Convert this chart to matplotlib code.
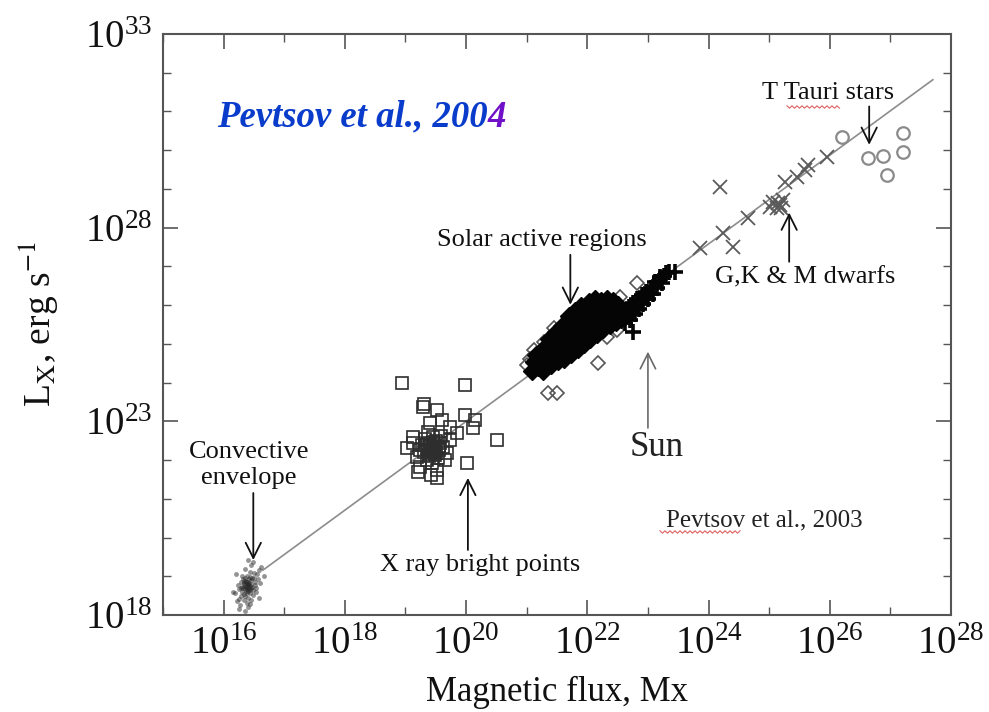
import numpy as np
import matplotlib
matplotlib.use('Agg')
import matplotlib.pyplot as plt
from matplotlib.ticker import FixedLocator, NullFormatter, LogFormatterMathtext
from matplotlib.lines import Line2D

plt.rcParams['font.family'] = ['Liberation Serif', 'DejaVu Serif']
plt.rcParams['mathtext.fontset'] = 'stix'

# all values are log10(flux [Mx]) and log10(Lx [erg/s])
conv_flux = [16.38, 16.42, 16.35, 16.45, 16.30, 16.50, 16.40, 16.33, 16.47, 16.37,
             16.28, 16.55, 16.41, 16.36, 16.44, 16.25, 16.52, 16.39, 16.31, 16.48,
             16.43, 16.34, 16.58, 16.22, 16.46, 16.40, 16.29, 16.53, 16.37, 16.44,
             16.32, 16.49, 16.41, 16.26, 16.56, 16.38, 16.35, 16.45, 16.19, 16.62,
             16.42, 16.33, 16.50, 16.39, 16.27, 16.47, 16.36, 16.43, 16.31, 16.54,
             16.40, 16.24, 16.60, 16.46, 16.34, 16.38, 16.51, 16.29, 16.42, 16.37,
             16.15, 16.66, 16.21, 16.58, 16.48, 16.26, 16.36, 16.44, 16.40, 16.33,
             16.39, 16.41, 16.35, 16.43, 16.37, 16.45, 16.32, 16.40]
conv_lum = [18.75, 18.82, 18.68, 18.90, 18.60, 18.95, 18.70, 18.80, 18.72, 18.88,
            18.50, 19.05, 18.62, 18.95, 18.58, 18.42, 18.85, 19.02, 18.72, 18.65,
            18.98, 18.55, 19.15, 18.35, 18.80, 18.45, 18.85, 18.70, 18.62, 19.10,
            18.92, 18.52, 18.78, 18.66, 18.92, 18.30, 19.18, 18.40, 18.58, 19.25,
            18.68, 18.38, 19.08, 18.86, 18.25, 18.96, 18.48, 18.74, 19.00, 18.60,
            18.20, 18.78, 18.82, 19.30, 18.83, 18.57, 18.77, 18.70, 18.92, 18.73,
            18.60, 19.00, 19.05, 18.45, 19.38, 18.15, 18.10, 18.28, 19.42, 18.88,
            18.66, 18.79, 18.76, 18.64, 18.84, 18.71, 18.69, 18.81]

xbp_flux = [18.94, 19.98, 19.29, 19.52, 19.98, 20.15, 20.12, 20.51, 20.02,
            19.41, 19.60, 19.74, 19.13, 19.03, 19.24, 19.41, 19.57, 19.74, 19.24,
            19.52, 19.36, 19.19, 19.69, 19.46, 19.85, 19.40, 19.45, 19.35, 19.50,
            19.30, 19.55, 19.40, 19.62, 19.48, 19.33, 19.58, 19.28, 19.44, 19.66,
            19.12, 19.38, 19.53, 19.47, 19.30, 19.52, 19.20, 19.42, 19.43, 19.37,
            19.49, 19.56, 19.32, 19.45, 19.39, 19.51, 19.41, 19.47, 19.36]
xbp_lum = [24.00, 23.94, 23.37, 23.30, 23.17, 23.04, 22.83, 22.52, 21.93,
           22.96, 23.04, 22.86, 22.60, 22.31, 22.26, 22.34, 22.44, 22.52, 21.82,
           21.75, 22.00, 22.08, 22.18, 22.60, 22.70, 22.40, 22.30, 22.45, 22.50,
           22.20, 22.25, 22.15, 22.35, 22.12, 22.55, 22.62, 22.38, 21.92, 22.00,
           22.45, 22.72, 22.05, 22.42, 23.45, 21.55, 21.70, 21.62, 22.22, 22.28,
           22.36, 22.32, 22.40, 22.48, 22.10, 22.18, 22.26, 22.20, 22.33]

ar_flux = [21.08, 21.12, 21.15, 21.18, 21.22, 21.25, 21.27, 21.30, 21.32, 21.34,
           21.36, 21.40, 21.42, 21.44, 21.46, 21.48, 21.52, 21.54, 21.55, 21.57,
           21.58, 21.62, 21.63, 21.65, 21.66, 21.68, 21.70, 21.73, 21.74, 21.76,
           21.77, 21.79, 21.80, 21.84, 21.85, 21.86, 21.88, 21.89, 21.90, 21.94,
           21.95, 21.97, 21.98, 22.00, 22.02, 22.05, 22.06, 22.08, 22.09, 22.11,
           22.13, 22.16, 22.17, 22.19, 22.20, 22.22, 22.26, 22.27, 22.29, 22.31,
           22.33, 22.37, 22.38, 22.40, 22.42, 22.47, 22.48, 22.50, 22.55, 22.57,
           22.62]
ar_lum = [24.30, 24.52, 24.72, 24.40, 24.62, 24.85, 24.30, 24.50, 24.72, 24.95,
          25.12, 24.45, 24.65, 24.88, 25.08, 25.30, 24.55, 24.78, 25.00, 25.22,
          25.45, 24.62, 24.85, 25.08, 25.30, 25.55, 25.72, 24.75, 24.98, 25.20,
          25.42, 25.65, 25.85, 24.88, 25.10, 25.32, 25.55, 25.78, 25.98, 25.00,
          25.22, 25.45, 25.68, 25.90, 26.08, 25.12, 25.35, 25.58, 25.80, 26.00,
          26.15, 25.25, 25.48, 25.70, 25.92, 26.12, 25.38, 25.60, 25.82, 26.02,
          26.16, 25.48, 25.70, 25.92, 26.10, 25.56, 25.78, 26.00, 25.65, 25.88,
          25.72]
# scattered active regions lying outside the dense cloud
ar_out_flux = [22.18, 21.35, 21.50, 21.00, 21.05, 21.12, 22.54, 22.82, 22.49, 22.33,
               21.28, 21.45]
ar_out_lum = [24.51, 23.74, 23.74, 24.45, 24.62, 24.85, 26.22, 26.58, 25.36, 25.18,
              25.05, 25.40]

sun_flux = [22.62, 22.65, 22.68, 22.70, 22.72, 22.75, 22.76, 22.78, 22.80, 22.82,
            22.85, 22.87, 22.90, 22.92, 22.95, 22.97, 23.00, 23.02, 23.05, 23.08,
            23.10, 23.12, 23.15, 23.18, 23.20, 23.23, 23.26, 23.30, 23.35, 23.45]
sun_lum = [25.55, 25.75, 25.95, 25.62, 25.85, 26.05, 25.31, 25.78, 25.98, 26.15,
           25.90, 26.10, 26.25, 26.02, 26.20, 26.35, 26.15, 26.32, 26.45, 26.30,
           26.50, 26.60, 26.45, 26.62, 26.72, 26.58, 26.75, 26.82, 26.85, 26.86]

dwarf_flux = [23.86, 24.24, 24.41, 24.19, 24.65, 25.07, 25.18, 25.13, 25.23, 25.02,
              25.26, 25.46, 25.59, 25.64, 25.96, 25.15, 25.20]
dwarf_lum = [27.48, 27.87, 27.51, 29.06, 28.26, 28.67, 28.59, 28.52, 28.72, 28.54,
             29.19, 29.32, 29.50, 29.63, 29.83, 28.64, 28.50]

ttauri_flux = [26.20, 26.63, 26.88, 26.95, 27.21, 27.21]
ttauri_lum = [30.33, 29.81, 29.84, 29.37, 30.45, 29.96]

fit_flux = [16.65, 27.70]
fit_lum = [19.16, 31.82]

x_major = [16, 18, 20, 22, 24, 26, 28]
y_major = [18, 23, 28, 33]


def p(v):
    return 10.0 ** np.asarray(v, dtype=float)


fig = plt.figure(figsize=(9.89, 7.12), dpi=100)
ax = fig.add_axes([0.1648, 0.1362, 0.7968, 0.816])
ax.set_xscale('log')
ax.set_yscale('log')

ax.plot(p(fit_flux), p(fit_lum), color='#8c8c8c', lw=1.2, zorder=1)

ax.plot(p(conv_flux), p(conv_lum), '.', ms=7, color='#2a2a2a', alpha=0.5, mew=0, zorder=2)
ax.plot(p(xbp_flux), p(xbp_lum), 's', ms=9, mfc='none', mec='#2e2e2e', mew=1.2, zorder=2)
ax.plot(p(ar_out_flux), p(ar_out_lum), 'D', ms=7, mfc='none', mec='#555555', mew=1.2, zorder=2)
ax.plot(p(ar_flux), p(ar_lum), 'D', ms=9, mfc='#050505', mec='#050505', mew=1.0, zorder=2)
ax.plot(p(sun_flux), p(sun_lum), '+', ms=11, color='#050505', mew=2.6, zorder=3)
ax.plot(p(dwarf_flux), p(dwarf_lum), 'x', ms=10, color='#5a5a5a', mew=1.3, zorder=2)
ax.plot(p(ttauri_flux), p(ttauri_lum), 'o', ms=9, mfc='none', mec='#8a8a8a', mew=1.6, zorder=2)

ax.set_xlim(1e15, 1e28)
ax.set_ylim(1e18, 1e33)
ax.xaxis.set_major_locator(FixedLocator(p(x_major)))
ax.yaxis.set_major_locator(FixedLocator(p(y_major)))
ax.xaxis.set_minor_locator(FixedLocator(p(np.arange(15, 29))))
ax.yaxis.set_minor_locator(FixedLocator(p(np.arange(18, 34))))
ax.xaxis.set_major_formatter(LogFormatterMathtext())
ax.yaxis.set_major_formatter(LogFormatterMathtext())
ax.xaxis.set_minor_formatter(NullFormatter())
ax.yaxis.set_minor_formatter(NullFormatter())
ax.tick_params(which='both', direction='in', top=True, right=True, color='#555555')
ax.tick_params(which='major', length=11, width=1.2, labelsize=28, pad=8, labelcolor='#111111')
ax.tick_params(which='minor', length=6, width=1.0)
for s in ax.spines.values():
    s.set_color('#555555')
    s.set_linewidth(1.5)

ax.set_xlabel('Magnetic flux, Mx', fontsize=25, color='#111111')
ax.xaxis.label.set_va('center')
ax.xaxis.set_label_coords(0.5, -0.133)
ax.set_ylabel(r'L$_{\rm X}$, erg s$^{-1}$', fontsize=27, color='#111111')
ax.yaxis.label.set_va('center')
ax.yaxis.set_label_coords(-0.158, 0.50)

arrow = dict(arrowstyle='->,head_length=0.5,head_width=0.25', lw=1.3, color='#111111',
             mutation_scale=22, shrinkA=0, shrinkB=0)
labels = [
    ('Solar active regions', 21.25, 27.69, 21.72, 27.30, 21.72, 26.01),
    ('T Tauri stars', 25.97, 31.49, 26.65, 31.13, 26.65, 30.14),
    ('G,K & M dwarfs', 25.59, 26.71, 25.33, 27.12, 25.33, 28.39),
    ('Convective\nenvelope', 16.42, 21.88, 16.49, 21.15, 16.49, 19.42),
    ('X ray bright points', 20.23, 19.29, 20.03, 19.68, 20.03, 21.54),
]
for txt, tx, ty, ax0, ay0, ax1, ay1 in labels:
    ax.text(p(tx), p(ty), txt, fontsize=19, ha='center', va='center', color='#111111',
            linespacing=1.25)
    ax.annotate('', xy=(p(ax1), p(ay1)), xytext=(p(ax0), p(ay0)), arrowprops=arrow)

ax.text(p(23.15), p(22.32), 'Sun', fontsize=25, ha='center', va='center', color='#222222')
sun_arrow = dict(arrow, color='#6a6a6a', lw=1.2)
ax.annotate('', xy=(p(23.0), p(24.8)), xytext=(p(23.0), p(22.83)), arrowprops=sun_arrow)

ax.text(p(24.92), p(20.45), 'Pevtsov et al., 2003', fontsize=18, ha='center', va='center',
        color='#222222')

t1 = ax.text(p(15.89), p(30.40), 'Pevtsov et al., 200', fontsize=26.5, fontweight='bold',
             fontstyle='italic', color='#0a3ccc', ha='left', va='bottom')
ax.annotate('4', xy=(1, 0), xycoords=t1, fontsize=26.5, fontweight='bold', fontstyle='italic',
            color='#7010c8', ha='left', va='bottom')


# red spell-check squiggles seen under two words of the original slide
def squiggle(x0, x1, y):
    xs = np.arange(x0, x1, 2.5)
    ys = y + np.where(np.arange(len(xs)) % 2 == 0, -1.2, 1.2)
    fig.add_artist(Line2D(xs / 989, 1 - ys / 712, transform=fig.transFigure,
                          color='#e06060', lw=0.8))


squiggle(787, 840, 107)
squiggle(660, 742, 532)

fig.savefig('out.png', dpi=100)
